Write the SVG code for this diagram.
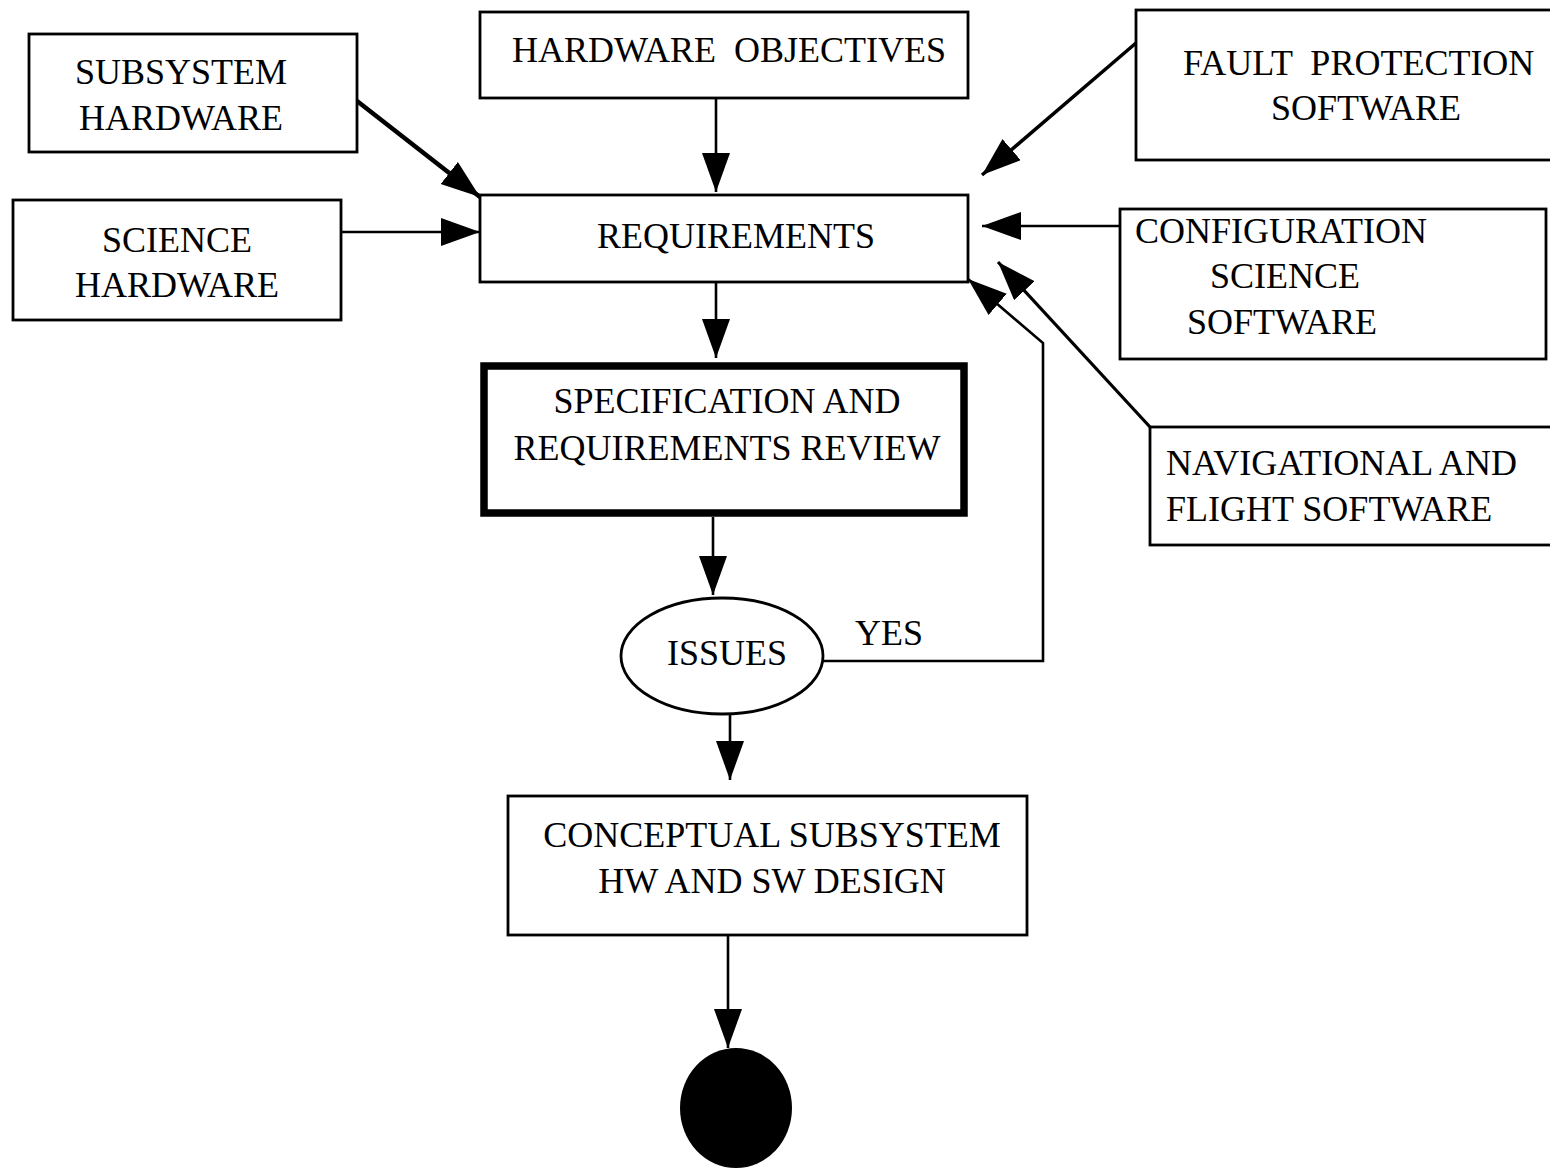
<svg xmlns="http://www.w3.org/2000/svg" width="1550" height="1168" viewBox="0 0 1550 1168">
  <style>
    .box { fill: #ffffff; stroke: #000000; stroke-width: 2.8; }
    .thick { fill: #ffffff; stroke: #000000; stroke-width: 7.5; }
    .lbl { font-family: "Liberation Serif", "Times New Roman", serif; font-size: 36px; fill: #000000; }
    .mid { text-anchor: middle; }
    .edge { fill: none; stroke: #000000; stroke-width: 2.6; }
  </style>
  <defs>
    <marker id="head" markerUnits="userSpaceOnUse" markerWidth="42" markerHeight="30" refX="39" refY="14" orient="auto">
      <path d="M0,0 L39,14 L0,28 z" fill="#000000"/>
    </marker>
  </defs>

  <rect width="1550" height="1168" fill="#ffffff"/>

  <!-- connectors -->
  <g id="connectors">
    <line class="edge" x1="716" y1="98" x2="716" y2="192" marker-end="url(#head)"/>
    <line class="edge" x1="357" y1="101" x2="480" y2="197" style="stroke-width:4.5" marker-end="url(#head)"/>
    <line class="edge" x1="341" y1="232" x2="480" y2="232" marker-end="url(#head)"/>
    <line class="edge" x1="1136" y1="43" x2="982" y2="175" style="stroke-width:3.5" marker-end="url(#head)"/>
    <line class="edge" x1="1120" y1="226" x2="982" y2="226" marker-end="url(#head)"/>
    <line class="edge" x1="1150" y1="427" x2="998" y2="262" style="stroke-width:3.2" marker-end="url(#head)"/>
    <polyline class="edge" points="822,661 1043,661 1043,343 968,279" marker-end="url(#head)"/>
    <line class="edge" x1="716" y1="282" x2="716" y2="358" marker-end="url(#head)"/>
    <line class="edge" x1="713" y1="517" x2="713" y2="595" marker-end="url(#head)"/>
    <line class="edge" x1="730" y1="715" x2="730" y2="780" marker-end="url(#head)"/>
    <line class="edge" x1="728" y1="935" x2="728" y2="1048" marker-end="url(#head)"/>
    <text class="lbl" x="855" y="645">YES</text>
  </g>

  <g id="subsystem-hardware">
    <rect class="box" x="29" y="34" width="328" height="118"/>
    <text class="lbl mid" x="181" y="84">SUBSYSTEM</text>
    <text class="lbl mid" x="181" y="130">HARDWARE</text>
  </g>

  <g id="science-hardware">
    <rect class="box" x="13" y="200" width="328" height="120"/>
    <text class="lbl mid" x="177" y="252">SCIENCE</text>
    <text class="lbl mid" x="177" y="297">HARDWARE</text>
  </g>

  <g id="hardware-objectives">
    <rect class="box" x="480" y="12" width="488" height="86"/>
    <text class="lbl" x="512" y="62" xml:space="preserve">HARDWARE  OBJECTIVES</text>
  </g>

  <g id="requirements">
    <rect class="box" x="480" y="195" width="488" height="87"/>
    <text class="lbl mid" x="736" y="248">REQUIREMENTS</text>
  </g>

  <g id="fault-protection-software">
    <rect class="box" x="1136" y="10" width="420" height="150"/>
    <text class="lbl" x="1183" y="75" xml:space="preserve">FAULT  PROTECTION</text>
    <text class="lbl mid" x="1366" y="120">SOFTWARE</text>
  </g>

  <g id="configuration-science-software">
    <rect class="box" x="1120" y="209" width="426" height="150"/>
    <text class="lbl" x="1135" y="243">CONFIGURATION</text>
    <text class="lbl" x="1210" y="288">SCIENCE</text>
    <text class="lbl" x="1187" y="334">SOFTWARE</text>
  </g>

  <g id="navigational-flight-software">
    <rect class="box" x="1150" y="427" width="410" height="118"/>
    <text class="lbl" x="1166" y="475">NAVIGATIONAL AND</text>
    <text class="lbl" x="1166" y="521">FLIGHT SOFTWARE</text>
  </g>

  <g id="spec-requirements-review">
    <rect class="thick" x="484" y="366" width="480" height="147"/>
    <text class="lbl mid" x="727" y="413">SPECIFICATION AND</text>
    <text class="lbl mid" x="727" y="460">REQUIREMENTS REVIEW</text>
  </g>

  <g id="issues">
    <ellipse class="box" cx="722" cy="656" rx="101" ry="58"/>
    <text class="lbl mid" x="727" y="665">ISSUES</text>
  </g>

  <g id="conceptual-design">
    <rect class="box" x="508" y="796" width="519" height="139"/>
    <text class="lbl mid" x="772" y="847">CONCEPTUAL SUBSYSTEM</text>
    <text class="lbl mid" x="772" y="893">HW AND SW DESIGN</text>
  </g>

  <g id="end">
    <ellipse cx="736" cy="1108" rx="56" ry="60" fill="#000000"/>
  </g>
</svg>
